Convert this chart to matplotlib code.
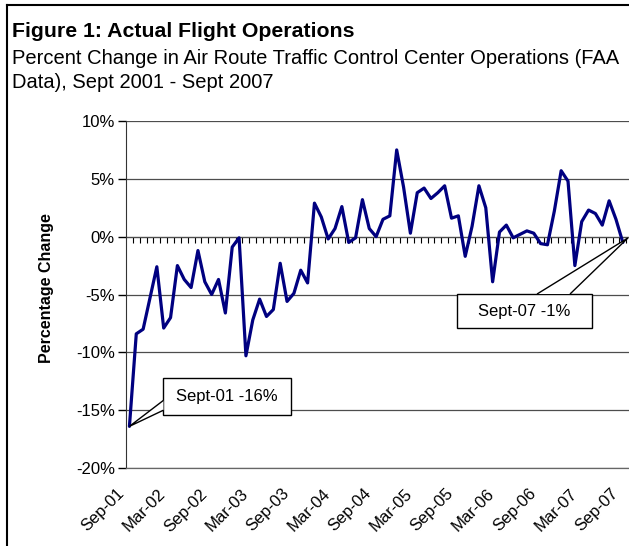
import matplotlib
matplotlib.use('Agg')
import matplotlib.pyplot as plt
from matplotlib.lines import Line2D
from matplotlib.patches import Polygon
from matplotlib.path import Path
from matplotlib.transforms import ScaledTranslation

plt.rcParams['font.family'] = ['Liberation Sans', 'DejaVu Sans']

# monthly percent change, Sep-01 .. Sep-07 (73 months)
pct_change = [
    -16.4, -8.4, -8.0, -5.3, -2.6, -7.9, -7.0, -2.5, -3.7, -4.4,
    -1.2, -3.9, -5.0, -3.7, -6.6, -0.9, -0.1, -10.3, -7.2, -5.4,
    -6.9, -6.3, -2.3, -5.6, -4.9, -2.9, -4.0, 2.9, 1.7, -0.2,
    0.7, 2.6, -0.5, -0.1, 3.2, 0.7, 0.0, 1.5, 1.8, 7.5,
    4.3, 0.3, 3.8, 4.2, 3.3, 3.8, 4.4, 1.6, 1.8, -1.7,
    0.9, 4.4, 2.5, -3.9, 0.4, 1.0, -0.1, 0.2, 0.5, 0.3,
    -0.6, -0.7, 2.2, 5.7, 4.8, -2.5, 1.3, 2.3, 2.0, 1.0,
    3.1, 1.5, -0.5,
]
months = list(range(len(pct_change)))

tick_labels = ['Sep-01', 'Mar-02', 'Sep-02', 'Mar-03', 'Sep-03', 'Mar-04', 'Sep-04',
               'Mar-05', 'Sep-05', 'Mar-06', 'Sep-06', 'Mar-07', 'Sep-07']
tick_months = [6 * i for i in range(len(tick_labels))]
y_ticks = [-20, -15, -10, -5, 0, 5, 10]

first_note = 'Sept-01 -16%'
last_note = 'Sept-07 -1%'


def callout_box(pad_x, pad_y):
    # rectangle with separate x / y padding (in font-size units)
    def box(x0, y0, width, height, mutation_size):
        px, py = pad_x * mutation_size, pad_y * mutation_size
        x1, y1 = x0 - px, y0 - py
        x2, y2 = x0 + width + px, y0 + height + py
        return Path([(x1, y1), (x2, y1), (x2, y2), (x1, y2), (x1, y1)], closed=True)
    return box


W, H = 629, 546
fig = plt.figure(figsize=(W / 100, H / 100), dpi=100, facecolor='white')
ax = fig.add_axes([126 / W, 78 / H, 503 / W, 347 / H])

ax.plot(months, pct_change, color='#000080', lw=2.3,
        solid_joinstyle='round', solid_capstyle='round', zorder=3)

ax.set_xlim(-0.5, 72.9)
ax.set_ylim(y_ticks[0], y_ticks[-1])

# y axis + gridlines
ax.set_yticks(y_ticks, labels=[f'{t}%' for t in y_ticks])
ax.tick_params(axis='y', direction='out', length=6, width=1, pad=2, labelsize=12)
ax.yaxis.grid(True, color='#4d4d4d', lw=0.9)
ax.set_axisbelow(True)
ax.set_ylabel('Percentage Change', fontsize=11.5, fontweight='bold', va='center')
ax.yaxis.set_label_coords((47 - 126) / 503, (468 - 288) / 347)

for side in ['top', 'right']:
    ax.spines[side].set_visible(False)
ax.spines['left'].set_color('#333333')
ax.spines['bottom'].set_color('#666666')
ax.spines['bottom'].set_linewidth(0.9)

# date labels at the bottom of the plot area
ax.set_xticks(tick_months, labels=tick_labels)
ax.tick_params(axis='x', length=0, pad=13, labelsize=12)
shift = ScaledTranslation(-9 / 72, 0, fig.dpi_scale_trans)
for lbl in ax.get_xticklabels():
    lbl.set_rotation(45)
    lbl.set_ha('right')
    lbl.set_rotation_mode('anchor')
    lbl.set_transform(lbl.get_transform() + shift)

# category axis line crossing at 0 with monthly tick marks
zero_pos = (0 - y_ticks[0]) / (y_ticks[-1] - y_ticks[0])
zero = ax.secondary_xaxis(zero_pos)
zero.set_alignment('bottom')
zero.spines['bottom'].set_color('black')
zero.set_xticks([m + 0.5 for m in months], labels=[])
zero.tick_params(axis='x', direction='out', length=4, width=0.8)

# callout boxes
ax.text(14.24, -13.8, first_note, ha='center', va='center', fontsize=12, zorder=4,
        bbox=dict(boxstyle=callout_box(0.78, 0.66), fc='white', ec='black', lw=1))
ax.text(57.65, -6.43, last_note, ha='center', va='center', fontsize=12, zorder=4,
        bbox=dict(boxstyle=callout_box(1.27, 0.56), fc='white', ec='black', lw=1))

# callout pointers (open at the box edge)
ax.add_patch(Polygon([(4.97, -14.15), (months[0], pct_change[0]), (4.97, -15.0)],
                     closed=False, fc='white', ec='black', lw=1, zorder=5))
ax.add_patch(Polygon([(59.48, -4.96), (months[-1] + 0.75, -0.11), (64.29, -4.96)],
                     closed=False, fc='white', ec='black', lw=1, zorder=5,
                     clip_on=False))

# titles
fig.text(12 / W, 1 - 37 / H, 'Figure 1: Actual Flight Operations',
         fontsize=15.3, fontweight='bold', va='baseline')
fig.text(12 / W, 1 - 64 / H,
         'Percent Change in Air Route Traffic Control Center Operations (FAA',
         fontsize=14.5, va='baseline')
fig.text(12 / W, 1 - 88.5 / H, 'Data), Sept 2001 - Sept 2007',
         fontsize=14.5, va='baseline')

# outer frame (left and top edges)
fx, fy = 7 / W, 1 - 5 / H
fig.add_artist(Line2D([fx, fx], [0, fy], color='black', lw=1.5))
fig.add_artist(Line2D([fx, 1], [fy, fy], color='black', lw=1.5))

fig.savefig('out.png', dpi=100, facecolor='white')
